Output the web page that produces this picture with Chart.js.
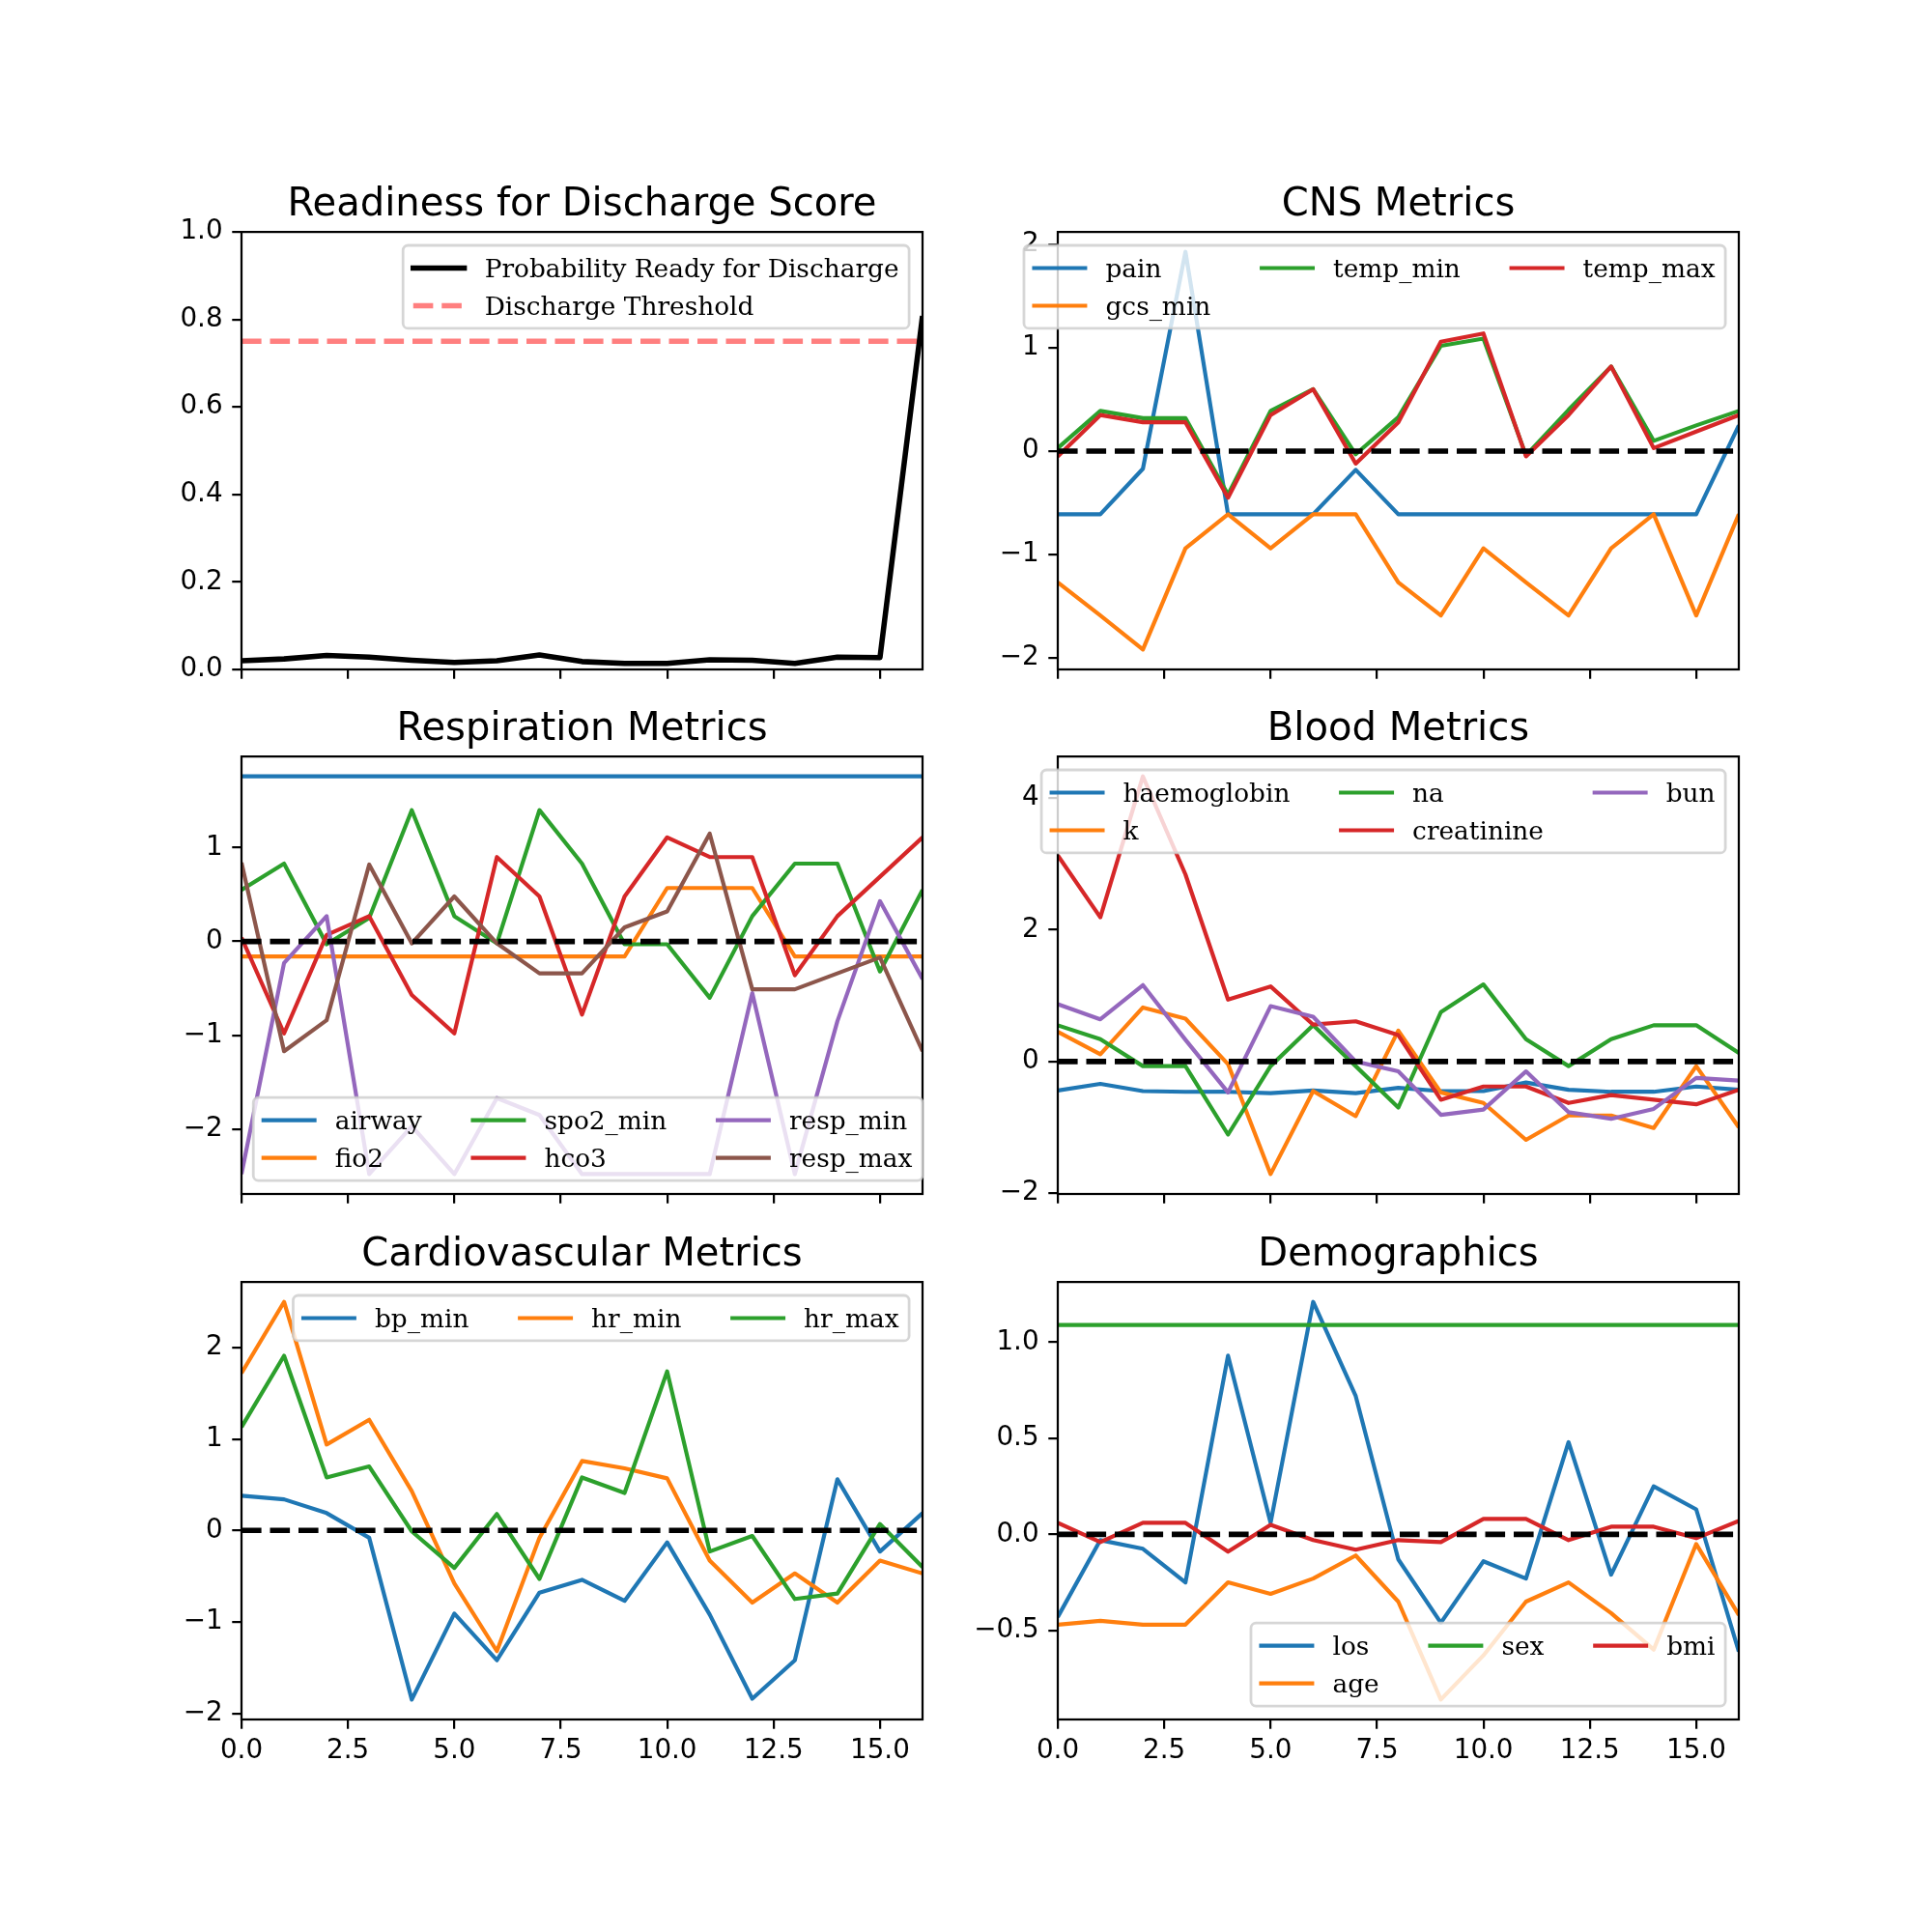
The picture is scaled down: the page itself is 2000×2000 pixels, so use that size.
<!DOCTYPE html>
<html>
<head>
<meta charset="utf-8">
<script src="https://cdn.jsdelivr.net/npm/chart.js@4.4.1/dist/chart.umd.min.js"></script>
<style>
html,body{margin:0;padding:0;background:#fff;overflow:hidden;}
#fig{position:relative;width:2000px;height:2000px;background:#fff;overflow:hidden;}
#fig canvas{position:absolute;}
</style>
</head>
<body>
<div id="fig"></div>
<script>
// ---------------- data ----------------
const timeSteps = [0,1,2,3,4,5,6,7,8,9,10,11,12,13,14,15,16];
const refX = [0, 16];

const readinessProb = [0.020,0.024,0.032,0.028,0.021,0.016,0.020,0.033,0.018,0.014,0.014,0.022,0.021,0.014,0.028,0.027,0.808];
const dischargeThreshold = 0.75;

const pain     = [-0.61,-0.61,-0.17,1.93,-0.61,-0.61,-0.61,-0.18,-0.61,-0.61,-0.61,-0.61,-0.61,-0.61,-0.61,-0.61,0.25];
const gcsMin   = [-1.27,-1.59,-1.92,-0.94,-0.61,-0.94,-0.61,-0.61,-1.27,-1.59,-0.94,-1.27,-1.59,-0.94,-0.61,-1.59,-0.61];
const tempMin  = [0.03,0.39,0.32,0.32,-0.42,0.39,0.60,-0.03,0.33,1.02,1.09,-0.04,0.40,0.82,0.10,0.25,0.39];
const tempMax  = [-0.05,0.35,0.28,0.28,-0.45,0.35,0.60,-0.12,0.28,1.06,1.14,-0.05,0.35,0.82,0.03,0.19,0.35];

const airway   = [1.76,1.76,1.76,1.76,1.76,1.76,1.76,1.76,1.76,1.76,1.76,1.76,1.76,1.76,1.76,1.76,1.76];
const fio2     = [-0.16,-0.16,-0.16,-0.16,-0.16,-0.16,-0.16,-0.16,-0.16,-0.16,0.57,0.57,0.57,-0.16,-0.16,-0.16,-0.16];
const spo2Min  = [0.55,0.83,-0.03,0.25,1.40,0.27,-0.02,1.40,0.83,-0.03,-0.03,-0.60,0.27,0.83,0.83,-0.32,0.55];
const hco3     = [0.04,-0.98,0.07,0.27,-0.57,-0.98,0.90,0.48,-0.78,0.48,1.11,0.90,0.90,-0.36,0.27,0.69,1.11];
const respMin  = [-2.48,-0.23,0.27,-2.48,-1.97,-2.48,-1.67,-1.85,-2.48,-2.48,-2.48,-2.48,-0.55,-2.48,-0.85,0.43,-0.40];
const respMax  = [0.84,-1.17,-0.84,0.82,-0.02,0.48,-0.02,-0.34,-0.34,0.15,0.32,1.15,-0.51,-0.51,-0.34,-0.17,-1.17];

const haemoglobin = [-0.44,-0.34,-0.45,-0.46,-0.46,-0.48,-0.44,-0.48,-0.40,-0.45,-0.45,-0.32,-0.43,-0.46,-0.46,-0.38,-0.43];
const potassium   = [0.45,0.11,0.82,0.65,-0.04,-1.71,-0.45,-0.83,0.47,-0.47,-0.63,-1.19,-0.82,-0.82,-1.01,-0.07,-1.00];
const sodium      = [0.55,0.34,-0.07,-0.07,-1.11,-0.07,0.55,-0.07,-0.70,0.75,1.17,0.34,-0.07,0.34,0.55,0.55,0.13];
const creatinine  = [3.13,2.19,4.33,2.84,0.94,1.14,0.56,0.61,0.40,-0.58,-0.38,-0.38,-0.63,-0.51,-0.58,-0.65,-0.43];
const bun         = [0.87,0.64,1.16,0.33,-0.47,0.84,0.68,0.00,-0.15,-0.81,-0.73,-0.15,-0.77,-0.87,-0.72,-0.25,-0.29];

const bpMin = [0.38,0.34,0.19,-0.08,-1.85,-0.91,-1.42,-0.68,-0.54,-0.77,-0.13,-0.92,-1.84,-1.42,0.56,-0.23,0.19];
const hrMin = [1.72,2.50,0.94,1.21,0.43,-0.58,-1.32,-0.08,0.76,0.68,0.57,-0.33,-0.79,-0.47,-0.79,-0.33,-0.47];
const hrMax = [1.13,1.91,0.58,0.70,-0.01,-0.41,0.18,-0.53,0.58,0.41,1.74,-0.23,-0.06,-0.75,-0.69,0.07,-0.40];

const los = [-0.43,-0.03,-0.075,-0.25,0.93,0.06,1.21,0.72,-0.13,-0.46,-0.14,-0.23,0.48,-0.21,0.25,0.13,-0.61];
const age = [-0.47,-0.45,-0.47,-0.47,-0.25,-0.31,-0.23,-0.11,-0.35,-0.86,-0.63,-0.35,-0.25,-0.41,-0.60,-0.05,-0.42];
const sex = [1.09,1.09,1.09,1.09,1.09,1.09,1.09,1.09,1.09,1.09,1.09,1.09,1.09,1.09,1.09,1.09,1.09];
const bmi = [0.06,-0.04,0.06,0.06,-0.09,0.05,-0.03,-0.08,-0.03,-0.04,0.08,0.08,-0.03,0.04,0.04,-0.02,0.07];

const xTicks = [0, 2.5, 5, 7.5, 10, 12.5, 15];
const readinessTicks = [0, 0.2, 0.4, 0.6, 0.8, 1.0];
const cnsTicks = [-2, -1, 0, 1, 2];
const respTicks = [-2, -1, 0, 1];
const bloodTicks = [-2, 0, 2, 4];
const cardioTicks = [-2, -1, 0, 1, 2];
const demoTicks = [-0.5, 0, 0.5, 1.0];

// ---------------- style ----------------
const FS_TICK = 27.78, FS_TITLE = 40.1, FS_LEG = 26.4;
const LW = 4.17, LW2 = 5.56, SPINE = 2.22, TICKLEN = 9.72;
const DASH = [20.6, 8.9];
const COL = {blue:'#1f77b4', orange:'#ff7f0e', green:'#2ca02c', red:'#d62728', purple:'#9467bd', brown:'#8c564b'};
const COLS = [[250, 954.55], [1095.45, 1800]];
const ROWS = [[240, 692.94], [783.53, 1236.47], [1327.06, 1780]];

function fmt(v, d) {
  const s = Math.abs(v).toFixed(d);
  return (v < -1e-9 ? '\u2212' : '') + s;
}
function xy(arr) { return arr.map((y, i) => ({x: timeSteps[i], y})); }
function hline(val) { return refX.map(x => ({x, y: val})); }

// spines (full box, drawn above the lines)
const spinePlugin = {
  id: 'spines',
  afterDatasetsDraw(chart) {
    const {ctx, chartArea: a} = chart;
    ctx.save();
    ctx.strokeStyle = '#000';
    ctx.lineWidth = SPINE;
    ctx.lineJoin = 'miter';
    ctx.strokeRect(a.left, a.top, a.right - a.left, a.bottom - a.top);
    ctx.restore();
  }
};

// matplotlib-style legend inside the axes
const mplLegend = {
  id: 'mplLegend',
  afterDraw(chart, args, opts) {
    if (!opts || !opts.ncol) return;
    const ctx = chart.ctx, a = chart.chartArea;
    const fs = FS_LEG;
    const pad = 0.4 * fs, lspace = 0.5 * fs, hlen = 2 * fs, htpad = 0.8 * fs, cspace = 2 * fs;
    const axpad = 0.5 * 27.78;
    const axpadX = (opts.padX !== undefined) ? opts.padX : axpad;
    const rowH = 25.8;
    const items = chart.data.datasets.filter(d => !d.label.startsWith('_'));
    const n = items.length, ncol = opts.ncol;
    const base = Math.floor(n / ncol), large = n % ncol;
    const perCol = [];
    for (let c = 0; c < ncol; c++) perCol.push(c < large ? base + 1 : base);
    ctx.save();
    ctx.font = fs + 'px "DejaVu Serif"';
    const cols = [];
    let k = 0;
    for (let c = 0; c < ncol; c++) {
      const list = items.slice(k, k + perCol[c]); k += perCol[c];
      const tw = Math.max(0, ...list.map(d => ctx.measureText(d.label).width));
      cols.push({list, w: hlen + htpad + tw});
    }
    const nrows = Math.max(...perCol);
    const W = 2 * pad + cols.reduce((s, c) => s + c.w, 0) + (ncol - 1) * cspace;
    const H = 2 * pad + nrows * rowH + (nrows - 1) * lspace;
    const x0 = a.right - axpadX - W;
    const y0 = opts.loc.startsWith('upper') ? a.top + axpad : a.bottom - axpad - H;
    // frame
    ctx.beginPath();
    ctx.roundRect(x0, y0, W, H, 0.2 * fs);
    ctx.fillStyle = 'rgba(255,255,255,0.8)';
    ctx.fill();
    ctx.lineWidth = 2.78;
    ctx.strokeStyle = 'rgba(204,204,204,0.8)';
    ctx.stroke();
    // entries
    let cx = x0 + pad;
    cols.forEach(col => {
      col.list.forEach((d, r) => {
        const cy = y0 + pad + r * (rowH + lspace) + rowH / 2;
        ctx.beginPath();
        ctx.moveTo(cx, cy);
        ctx.lineTo(cx + hlen, cy);
        ctx.strokeStyle = d.borderColor;
        ctx.lineWidth = d.borderWidth;
        const dashed = d.borderDash && d.borderDash.length;
        ctx.setLineDash(dashed ? d.borderDash : []);
        ctx.lineCap = dashed ? 'butt' : 'square';
        ctx.stroke();
        ctx.setLineDash([]);
        ctx.fillStyle = '#000';
        ctx.textBaseline = 'alphabetic';
        ctx.textAlign = 'left';
        ctx.fillText(d.label, cx + hlen + htpad, cy + 9.3);
      });
      cx += col.w + cspace;
    });
    ctx.restore();
  }
};

Chart.register(spinePlugin, mplLegend);

const fig = document.getElementById('fig');

function makePanel(p) {
  const [L, R] = COLS[p.col], [T, B] = ROWS[p.row];
  const YW = 150, XH = 80, PR = 30;
  const TPAD = 3.0;
  const TH = FS_TITLE * 1.2 + TPAD;
  const canvas = document.createElement('canvas');
  let cw = Math.round(YW + (R - L) + PR), ch = Math.round(TH + (B - T) + XH);
  canvas.width = cw; canvas.height = ch;
  canvas.style.width = cw + 'px'; canvas.style.height = ch + 'px';
  canvas.style.left = Math.round(L - YW) + 'px';
  canvas.style.top = Math.round(T - TH) + 'px';
  fig.appendChild(canvas);

  let ylim = p.ylim;
  if (!ylim) {
    const all = [];
    p.series.forEach(s => s.data.forEach(pt => all.push(pt.y)));
    const lo = Math.min(...all), hi = Math.max(...all), m = 0.05 * (hi - lo);
    ylim = [lo - m, hi + m];
  }
  const nser = p.series.length;
  const datasets = p.series.map((s, i) => ({
    label: s.label,
    data: s.data,
    borderColor: s.color,
    borderWidth: s.width || LW,
    borderDash: s.dash || [],
    borderJoinStyle: 'round',
    borderCapStyle: 'butt',
    pointRadius: 0,
    pointHoverRadius: 0,
    tension: 0,
    fill: false,
    clip: 0,
    order: nser - i
  }));
  const tickFont = {family: 'DejaVu Sans', size: FS_TICK, weight: 'normal', lineHeight: 1.2};
  const gridOpt = {display: true, drawOnChartArea: false, drawTicks: true, tickLength: TICKLEN,
                   color: '#000', lineWidth: SPINE, tickWidth: SPINE, tickColor: '#000'};
  const chart = new Chart(canvas, {
    type: 'line',
    data: {datasets},
    options: {
      responsive: false,
      maintainAspectRatio: false,
      animation: false,
      devicePixelRatio: 1,
      events: [],
      layout: {padding: {left: 0, right: PR, top: 0, bottom: 0}},
      plugins: {
        legend: {display: false},
        tooltip: {enabled: false},
        title: {
          display: true, text: p.title, fullSize: false, color: '#000',
          font: {family: 'DejaVu Sans', size: FS_TITLE, weight: 'normal', lineHeight: 1.2},
          padding: {top: 0, bottom: TPAD}
        },
        mplLegend: p.legend
      },
      scales: {
        x: {
          type: 'linear', min: 0, max: 16,
          afterBuildTicks: s => { s.ticks = xTicks.map(v => ({value: v})); },
          afterFit: s => { s.height = XH; },
          ticks: {autoSkip: false, maxRotation: 0, minRotation: 0, padding: 6, color: '#000', font: tickFont,
                  callback: v => p.xLabels ? fmt(v, 1) : ''},
          grid: gridOpt,
          border: {display: false}
        },
        y: {
          type: 'linear', min: ylim[0], max: ylim[1],
          afterBuildTicks: s => { s.ticks = p.yTicks.map(v => ({value: v})); },
          afterFit: s => { s.width = YW; },
          ticks: {autoSkip: false, padding: TICKLEN, color: '#000', font: tickFont,
                  callback: v => fmt(v, p.yDec)},
          grid: gridOpt,
          border: {display: false}
        }
      }
    }
  });
  // align the plotting area to its exact place in the figure
  let ca = chart.chartArea;
  const dw = (R - L) - (ca.right - ca.left), dh = (B - T) - (ca.bottom - ca.top);
  if (Math.abs(dw) > 0.5 || Math.abs(dh) > 0.5) {
    cw = Math.round(cw + dw); ch = Math.round(ch + dh);
    chart.resize(cw, ch);
    ca = chart.chartArea;
  }
  canvas.style.left = Math.round(L - ca.left) + 'px';
  canvas.style.top = Math.round(T - ca.top) + 'px';
  return chart;
}

const zeroLine = {label: '_zero', data: hline(0), color: '#000', width: LW2, dash: DASH};

makePanel({
  col: 0, row: 0, title: 'Readiness for Discharge Score', yTicks: readinessTicks, yDec: 1, ylim: [0, 1],
  legend: {ncol: 1, loc: 'upper right'},
  series: [
    {label: 'Probability Ready for Discharge', data: xy(readinessProb), color: '#000', width: LW2},
    {label: 'Discharge Threshold', data: hline(dischargeThreshold), color: 'rgba(255,0,0,0.5)', width: LW2, dash: DASH}
  ]
});
makePanel({
  col: 1, row: 0, title: 'CNS Metrics', yTicks: cnsTicks, yDec: 0,
  legend: {ncol: 3, loc: 'upper right'},
  series: [
    {label: 'pain', data: xy(pain), color: COL.blue},
    {label: 'gcs_min', data: xy(gcsMin), color: COL.orange},
    {label: 'temp_min', data: xy(tempMin), color: COL.green},
    {label: 'temp_max', data: xy(tempMax), color: COL.red},
    zeroLine
  ]
});
makePanel({
  col: 0, row: 1, title: 'Respiration Metrics', yTicks: respTicks, yDec: 0,
  legend: {ncol: 3, loc: 'lower right', padX: 0},
  series: [
    {label: 'airway', data: xy(airway), color: COL.blue},
    {label: 'fio2', data: xy(fio2), color: COL.orange},
    {label: 'spo2_min', data: xy(spo2Min), color: COL.green},
    {label: 'hco3', data: xy(hco3), color: COL.red},
    {label: 'resp_min', data: xy(respMin), color: COL.purple},
    {label: 'resp_max', data: xy(respMax), color: COL.brown},
    zeroLine
  ]
});
makePanel({
  col: 1, row: 1, title: 'Blood Metrics', yTicks: bloodTicks, yDec: 0,
  legend: {ncol: 3, loc: 'upper right'},
  series: [
    {label: 'haemoglobin', data: xy(haemoglobin), color: COL.blue},
    {label: 'k', data: xy(potassium), color: COL.orange},
    {label: 'na', data: xy(sodium), color: COL.green},
    {label: 'creatinine', data: xy(creatinine), color: COL.red},
    {label: 'bun', data: xy(bun), color: COL.purple},
    zeroLine
  ]
});
makePanel({
  col: 0, row: 2, title: 'Cardiovascular Metrics', yTicks: cardioTicks, yDec: 0, xLabels: true,
  legend: {ncol: 3, loc: 'upper right'},
  series: [
    {label: 'bp_min', data: xy(bpMin), color: COL.blue},
    {label: 'hr_min', data: xy(hrMin), color: COL.orange},
    {label: 'hr_max', data: xy(hrMax), color: COL.green},
    zeroLine
  ]
});
makePanel({
  col: 1, row: 2, title: 'Demographics', yTicks: demoTicks, yDec: 1, xLabels: true,
  legend: {ncol: 3, loc: 'lower right'},
  series: [
    {label: 'los', data: xy(los), color: COL.blue},
    {label: 'age', data: xy(age), color: COL.orange},
    {label: 'sex', data: xy(sex), color: COL.green},
    {label: 'bmi', data: xy(bmi), color: COL.red},
    zeroLine
  ]
});
</script>
</body>
</html>
